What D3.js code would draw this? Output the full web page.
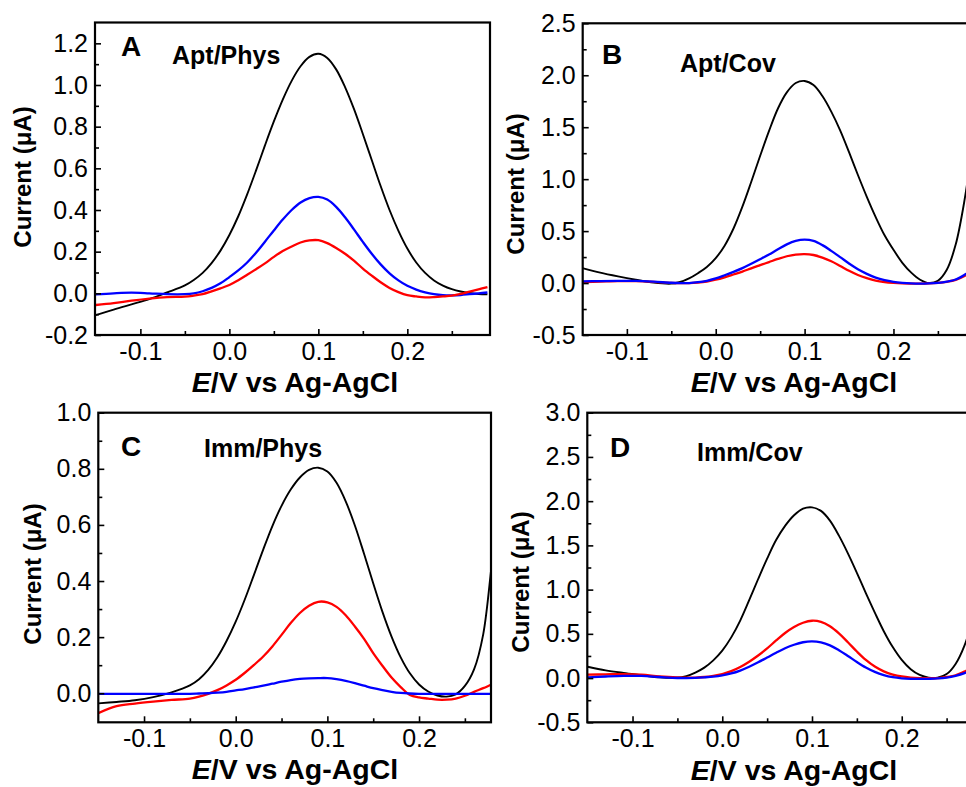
<!DOCTYPE html>
<html>
<head>
<meta charset="utf-8">
<script src="https://cdnjs.cloudflare.com/ajax/libs/d3/7.8.5/d3.min.js"></script>
<style>
body { margin: 0; background: #fff; }
svg { display: block; font-family: "Liberation Sans", Arial, sans-serif; }
</style>
</head>
<body>
<svg id="chart" width="966" height="787"></svg>
<script>
// potential (V vs Ag-AgCl), same grid for every trace
var potential = [-0.15,-0.13,-0.11,-0.09,-0.07,
	-0.05,-0.04,-0.03,-0.02,-0.01,0.00,0.01,0.02,0.03,0.04,0.05,0.06,0.07,0.08,0.09,
	0.10,0.11,0.12,0.13,0.14,0.15,0.16,0.17,0.18,0.19,0.20,0.21,0.22,0.23,0.24,0.25,
	0.26,0.27,0.28,0.29];

// A - Apt/Phys (uA)
var aptPhysBlack = [-0.105,-0.078,-0.053,-0.028,0.004,
	0.038,0.064,0.098,0.145,0.205,0.280,0.370,0.475,0.590,0.710,0.825,0.930,1.020,1.090,1.135,
	1.150,1.130,1.075,0.990,0.885,0.765,0.640,0.515,0.400,0.300,0.215,0.148,0.098,0.062,0.037,0.020,
	0.009,0.002,-0.003,-0.005];
var aptPhysBlue = [-0.005,0.000,0.003,0.000,-0.004,
	-0.004,0.000,0.010,0.026,0.048,0.078,0.110,0.148,0.195,0.248,0.302,0.354,0.400,0.436,0.457,
	0.463,0.450,0.415,0.365,0.307,0.247,0.190,0.139,0.096,0.062,0.036,0.018,0.005,-0.004,-0.009,-0.010,
	-0.008,-0.004,0.000,0.004];
var aptPhysRed = [-0.056,-0.047,-0.035,-0.025,-0.018,
	-0.016,-0.011,-0.004,0.009,0.024,0.040,0.063,0.089,0.116,0.144,0.175,0.203,0.225,0.244,0.254,
	0.255,0.241,0.218,0.190,0.157,0.119,0.085,0.053,0.026,0.006,-0.009,-0.015,-0.019,-0.018,-0.015,-0.011,
	-0.003,0.008,0.019,0.030];

// B - Apt/Cov
var aptCovBlack = [0.144,0.100,0.064,0.032,0.004,
	-0.006,0.010,0.045,0.095,0.155,0.240,0.360,0.525,0.735,0.975,1.225,1.465,1.680,1.835,1.925,
	1.945,1.905,1.800,1.650,1.470,1.260,1.040,0.830,0.635,0.460,0.320,0.195,0.100,0.032,0.000,0.022,
	0.128,0.370,0.800,1.400];
var aptCovBlue = [0.016,0.019,0.021,0.020,0.013,
	0.003,0.000,0.000,0.008,0.022,0.045,0.075,0.108,0.144,0.186,0.230,0.275,0.325,0.372,0.405,
	0.417,0.405,0.365,0.310,0.250,0.188,0.132,0.088,0.052,0.028,0.012,0.002,-0.004,-0.006,-0.004,0.002,
	0.014,0.034,0.080,0.140];
var aptCovRed = [0.010,0.014,0.018,0.018,0.012,
	0.002,0.000,0.000,0.005,0.015,0.032,0.055,0.082,0.110,0.142,0.172,0.202,0.232,0.258,0.274,
	0.279,0.270,0.245,0.210,0.165,0.118,0.078,0.048,0.024,0.010,0.002,-0.003,-0.005,-0.006,-0.004,0.002,
	0.012,0.030,0.068,0.120];

// C - Imm/Phys
var immPhysBlack = [-0.036,-0.031,-0.025,-0.014,0.003,
	0.028,0.050,0.083,0.128,0.186,0.255,0.335,0.423,0.512,0.596,0.668,0.726,0.769,0.796,0.804,
	0.790,0.750,0.684,0.598,0.497,0.392,0.291,0.202,0.128,0.071,0.031,0.006,-0.008,-0.012,-0.004,0.026,
	0.085,0.210,0.480,0.750];
var immPhysBlue = [-0.002,-0.002,-0.002,-0.002,-0.002,
	-0.002,-0.001,0.000,0.002,0.005,0.010,0.015,0.021,0.027,0.034,0.041,0.047,0.051,0.053,0.054,
	0.054,0.050,0.044,0.036,0.027,0.018,0.011,0.005,0.001,-0.001,-0.002,-0.002,-0.002,-0.002,-0.002,-0.002,
	-0.002,-0.002,-0.002,-0.002];
var immPhysRed = [-0.071,-0.046,-0.037,-0.030,-0.024,
	-0.019,-0.012,-0.002,0.011,0.028,0.048,0.073,0.101,0.131,0.167,0.208,0.250,0.286,0.312,0.326,
	0.324,0.308,0.278,0.238,0.194,0.143,0.098,0.056,0.022,-0.006,-0.015,-0.019,-0.023,-0.023,-0.019,-0.009,
	0.005,0.018,0.032,0.045];

// D - Imm/Cov
var immCovBlack = [0.128,0.087,0.058,0.033,0.008,
	0.004,0.022,0.062,0.118,0.200,0.310,0.460,0.650,0.880,1.120,1.350,1.560,1.720,1.840,1.915,
	1.930,1.890,1.780,1.610,1.410,1.190,0.960,0.740,0.530,0.350,0.205,0.100,0.035,0.005,0.005,0.045,
	0.160,0.370,0.700,1.100];
var immCovRed = [0.038,0.042,0.045,0.038,0.020,
	0.008,0.005,0.006,0.012,0.025,0.045,0.078,0.125,0.185,0.255,0.335,0.425,0.510,0.578,0.625,
	0.648,0.635,0.585,0.505,0.405,0.300,0.205,0.130,0.076,0.040,0.018,0.006,0.000,-0.002,0.000,0.012,
	0.032,0.075,0.130,0.200];
var immCovBlue = [0.008,0.018,0.025,0.024,0.012,
	0.001,0.000,0.002,0.008,0.016,0.030,0.052,0.085,0.128,0.178,0.232,0.286,0.337,0.377,0.405,
	0.415,0.404,0.370,0.315,0.250,0.182,0.120,0.070,0.034,0.010,-0.003,-0.009,-0.010,-0.008,-0.004,0.006,
	0.026,0.056,0.100,0.160];

// tick values
var xMajorTicks = [-0.1, 0.0, 0.1, 0.2];
var xMinorTicks = [-0.05, 0.05, 0.15, 0.25];
var yTicksA = [-0.2, 0.0, 0.2, 0.4, 0.6, 0.8, 1.0, 1.2];
var yMinorA = [-0.1, 0.1, 0.3, 0.5, 0.7, 0.9, 1.1];
var yTicksB = [-0.5, 0.0, 0.5, 1.0, 1.5, 2.0, 2.5];
var yMinorB = [-0.25, 0.25, 0.75, 1.25, 1.75, 2.25];
var yTicksC = [0.0, 0.2, 0.4, 0.6, 0.8, 1.0];
var yMinorC = [0.1, 0.3, 0.5, 0.7, 0.9];
var yTicksD = [-0.5, 0.0, 0.5, 1.0, 1.5, 2.0, 2.5, 3.0];
var yMinorD = [-0.25, 0.25, 0.75, 1.25, 1.75, 2.25, 2.75];

var letters = ["A", "B", "C", "D"];
var panelNames = ["Apt/Phys", "Apt/Cov", "Imm/Phys", "Imm/Cov"];

// layout of the four plots (pixels)
var panels = [
	{ left: 95, right: 490, top: 22.5, bottom: 335, xDomain: [-0.151, 0.2929], yDomain: [-0.2, 1.3],
	  yTicks: yTicksA, yMinor: yMinorA,
	  traces: [[aptPhysBlack, "#000"], [aptPhysBlue, "#0000ff"], [aptPhysRed, "#ff0000"]],
	  letterPos: [121, 56], namePos: [172, 64], titlePos: [295, 392], yTitlePos: [31, 177] },
	{ left: 582.7, right: 973, top: 23.3, bottom: 335, xDomain: [-0.1497, 0.2895], yDomain: [-0.5, 2.5],
	  yTicks: yTicksB, yMinor: yMinorB,
	  traces: [[aptCovBlack, "#000"], [aptCovRed, "#ff0000"], [aptCovBlue, "#0000ff"]],
	  letterPos: [602, 64], namePos: [680, 71.5], titlePos: [794, 392], yTitlePos: [524, 184] },
	{ left: 98.3, right: 491, top: 412.7, bottom: 722.3, xDomain: [-0.1499, 0.2785], yDomain: [-0.1036, 1.0],
	  yTicks: yTicksC, yMinor: yMinorC,
	  traces: [[immPhysBlack, "#000"], [immPhysRed, "#ff0000"], [immPhysBlue, "#0000ff"]],
	  letterPos: [121, 456], namePos: [204, 456.5], titlePos: [295, 779], yTitlePos: [41, 574] },
	{ left: 587.3, right: 982.5, top: 412.7, bottom: 722.3, xDomain: [-0.1504, 0.29], yDomain: [-0.5, 3.0],
	  yTicks: yTicksD, yMinor: yMinorD,
	  traces: [[immCovBlack, "#000"], [immCovRed, "#ff0000"], [immCovBlue, "#0000ff"]],
	  letterPos: [610, 457], namePos: [697, 460.5], titlePos: [794, 780], yTitlePos: [529, 582] }
];

var svg = d3.select("#chart");
svg.append("rect").attr("width", 966).attr("height", 787).attr("fill", "#fff");

var fmt = function(d){ return d.toFixed(1); };

function styleAxis(sel) {
	sel.select(".domain").remove();
	sel.attr("font-family", null).attr("font-size", null);
	sel.selectAll("line").attr("stroke", "#000").attr("stroke-width", 1.6);
	sel.selectAll("text").attr("fill", "#000").attr("font-size", 25);
}

panels.forEach(function(p, i) {
	var x = d3.scaleLinear().domain(p.xDomain).range([p.left, p.right]);
	var y = d3.scaleLinear().domain(p.yDomain).range([p.bottom, p.top]);
	var g = svg.append("g").attr("class", "panel-" + letters[i]);

	var clipId = "clip-" + i;
	svg.append("clipPath").attr("id", clipId)
		.append("rect")
		.attr("x", p.left).attr("y", p.top)
		.attr("width", p.right - p.left).attr("height", p.bottom - p.top);

	var line = d3.line()
		.x(function(d, j){ return x(potential[j]); })
		.y(function(d){ return y(d); })
		.curve(d3.curveCatmullRom.alpha(0.5));

	var curves = g.append("g").attr("clip-path", "url(#" + clipId + ")");
	p.traces.forEach(function(t) {
		curves.append("path")
			.datum(t[0])
			.attr("d", line)
			.attr("fill", "none")
			.attr("stroke", t[1])
			.attr("stroke-width", t[1] == "#000" ? 1.9 : 2.3)
			.attr("stroke-linejoin", "round");
	});

	// x axis, ticks pointing inside
	g.append("g").attr("transform", "translate(0," + p.bottom + ")")
		.call(d3.axisBottom(x).tickValues(xMajorTicks).tickSizeInner(-6).tickSizeOuter(0).tickPadding(7).tickFormat(fmt))
		.call(styleAxis);
	g.append("g").attr("transform", "translate(0," + p.bottom + ")")
		.call(d3.axisBottom(x).tickValues(xMinorTicks).tickSizeInner(-4).tickSizeOuter(0).tickFormat(""))
		.call(styleAxis);

	// y axis
	g.append("g").attr("transform", "translate(" + p.left + ",0)")
		.call(d3.axisLeft(y).tickValues(p.yTicks).tickSizeInner(-6).tickSizeOuter(0).tickPadding(7).tickFormat(fmt))
		.call(styleAxis);
	g.append("g").attr("transform", "translate(" + p.left + ",0)")
		.call(d3.axisLeft(y).tickValues(p.yMinor).tickSizeInner(-4).tickSizeOuter(0).tickFormat(""))
		.call(styleAxis);

	// frame
	g.append("rect")
		.attr("x", p.left).attr("y", p.top)
		.attr("width", p.right - p.left).attr("height", p.bottom - p.top)
		.attr("fill", "none").attr("stroke", "#000").attr("stroke-width", 2.2);

	// panel letter and name
	g.append("text").attr("x", p.letterPos[0]).attr("y", p.letterPos[1])
		.attr("font-size", 28).attr("font-weight", "bold").text(letters[i]);
	g.append("text").attr("x", p.namePos[0]).attr("y", p.namePos[1])
		.attr("font-size", 25).attr("font-weight", "bold").text(panelNames[i]);

	// axis titles
	var xt = g.append("text").attr("x", p.titlePos[0]).attr("y", p.titlePos[1])
		.attr("text-anchor", "middle").attr("font-size", 28.5).attr("font-weight", "bold");
	xt.append("tspan").attr("font-style", "italic").text("E");
	xt.append("tspan").text("/V vs Ag-AgCl");

	g.append("text")
		.attr("transform", "translate(" + p.yTitlePos[0] + "," + p.yTitlePos[1] + ") rotate(-90)")
		.attr("text-anchor", "middle").attr("font-size", 24).attr("font-weight", "bold")
		.text("Current (\u03bcA)");
});
</script>
</body>
</html>
